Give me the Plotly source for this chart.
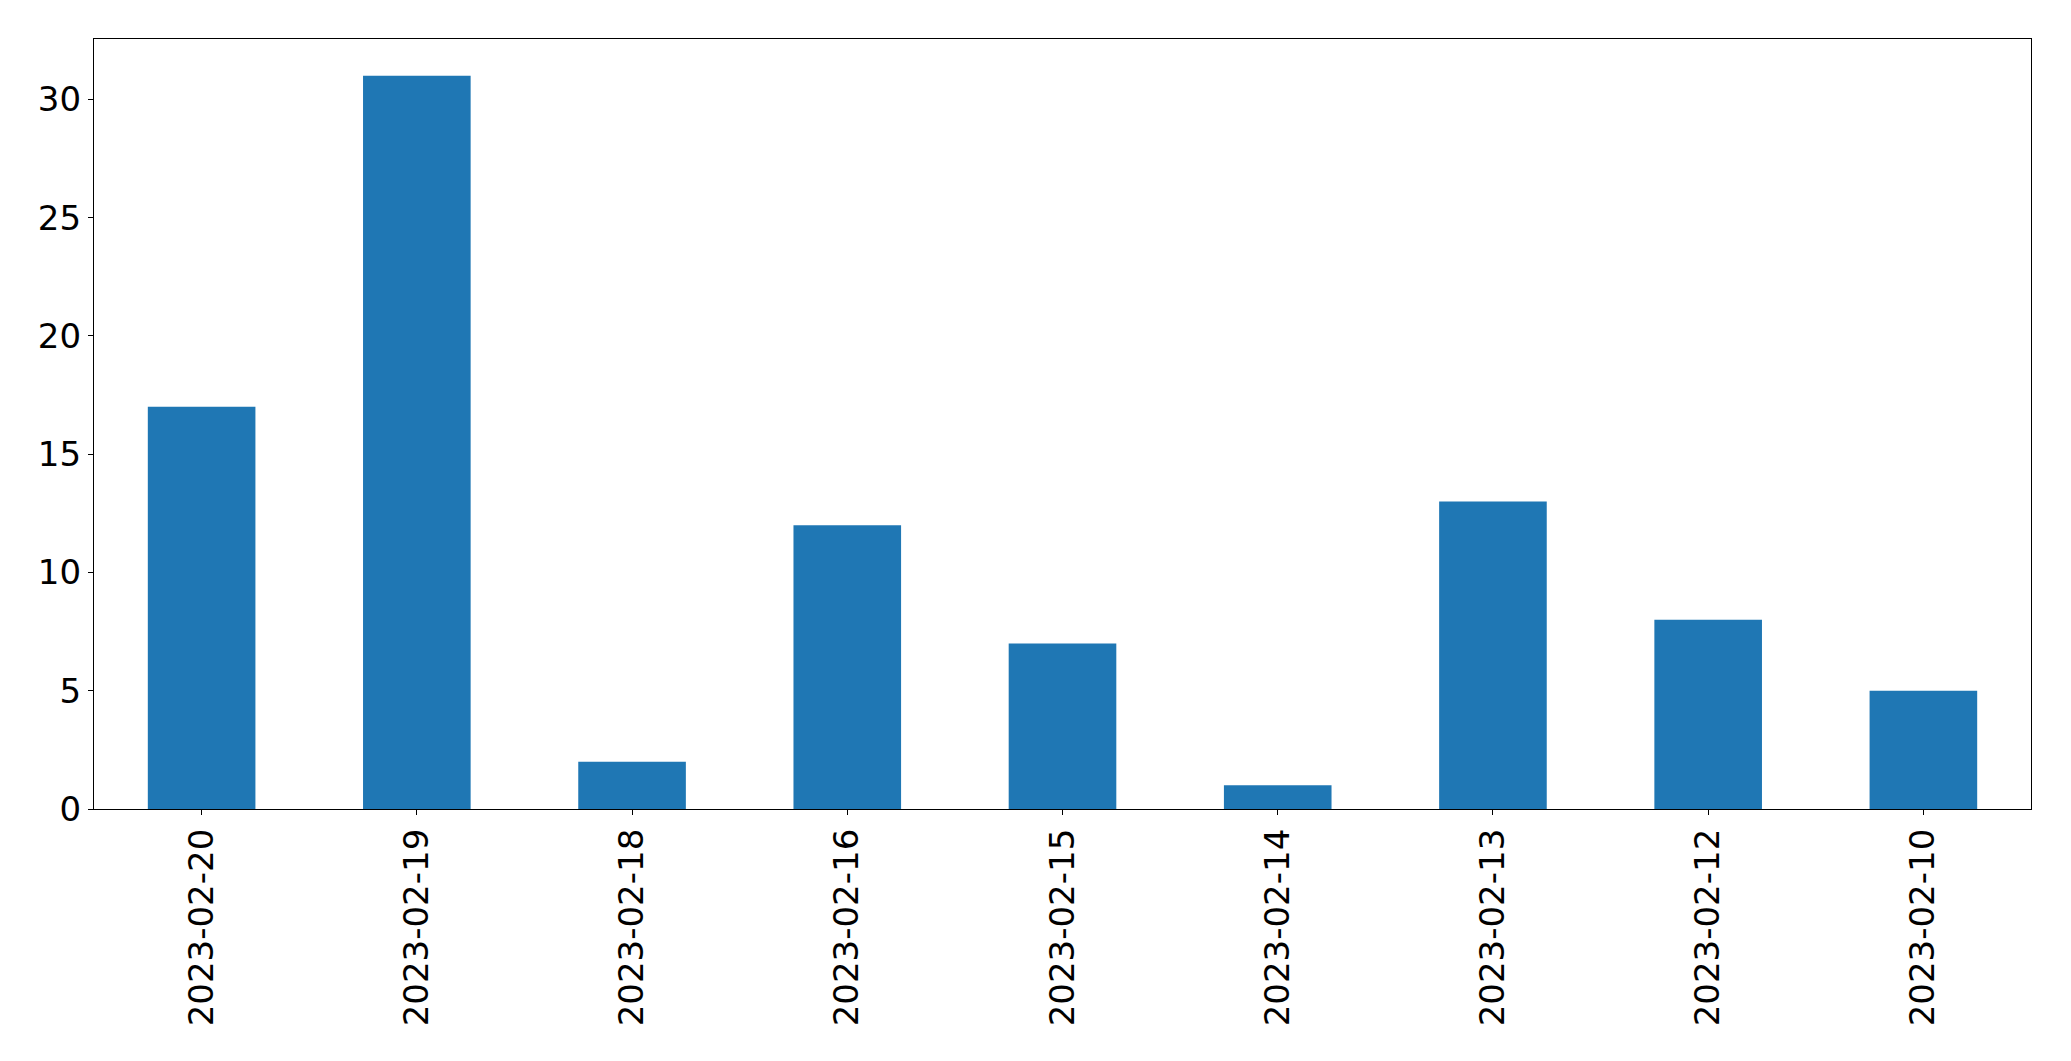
import plotly.graph_objects as go

dates = ["2023-02-20", "2023-02-19", "2023-02-18", "2023-02-16", "2023-02-15",
         "2023-02-14", "2023-02-13", "2023-02-12", "2023-02-10"]
counts = [17, 31, 2, 12, 7, 1, 13, 8, 5]
y_ticks = [0, 5, 10, 15, 20, 25, 30]

fig = go.Figure(go.Bar(x=dates, y=counts, marker=dict(color="#1f77b4", line=dict(width=0))))

axis_common = dict(showline=True, linecolor="black", linewidth=1.3, mirror=True,
                   showgrid=False, zeroline=False, ticks="outside", ticklen=5,
                   tickwidth=1.3, tickcolor="black",
                   tickfont=dict(family="DejaVu Sans", size=34, color="black"))

fig.update_layout(
    width=2063, height=1053,
    margin=dict(l=86, r=40, t=31, b=252),
    plot_bgcolor="white", paper_bgcolor="white",
    bargap=0.5, showlegend=False,
    xaxis=dict(type="category", tickangle=-90, range=[-0.5, 8.5], **axis_common),
    yaxis=dict(range=[0, 32.55], tickvals=y_ticks, **axis_common),
)

fig.write_html("out.html")
